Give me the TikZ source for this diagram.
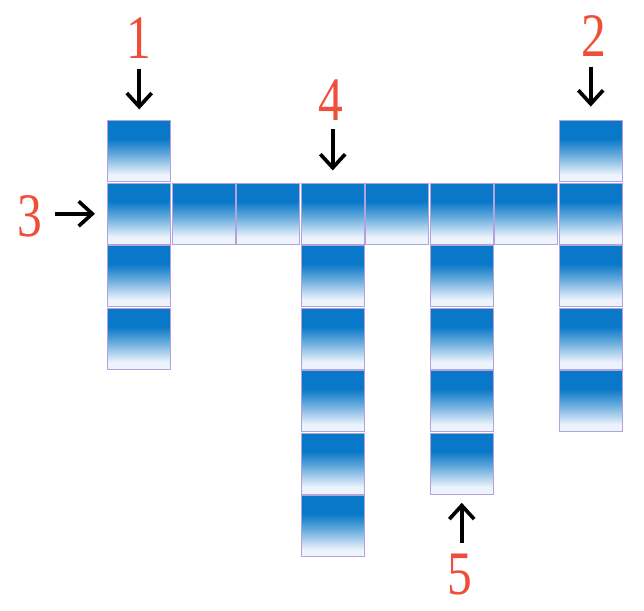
\documentclass[tikz,border=0pt]{standalone}
\usepackage{fontspec}
\usepackage{graphicx}
\setmainfont{Liberation Serif}
\usetikzlibrary{arrows.meta}

\definecolor{cellblue}{RGB}{10,120,200}
\definecolor{cellwhite}{RGB}{236,243,251}
\definecolor{celledge}{RGB}{178,162,222}
\definecolor{numred}{RGB}{238,78,58}

\pgfdeclareverticalshading{cellshade}{100bp}{color(0bp)=(cellwhite); color(25bp)=(cellwhite); color(31bp)=(cellwhite); color(48bp)=(cellblue!65!white); color(60bp)=(cellblue); color(75bp)=(cellblue); color(100bp)=(cellblue)}

\tikzset{
  cell/.style={rectangle, minimum width=1.58cm, minimum height=1.53cm, inner sep=0pt, outer sep=0pt,
               shading=cellshade, draw=celledge, line width=0.6pt},
  num/.style={text=numred, inner sep=0pt, font=\fontsize{44}{44}\selectfont},
  arr/.style={-{Straight Barb[length=0.34cm, width=0.62cm, line width=2.6pt]}, line width=3pt, black}
}

\begin{document}
\begin{tikzpicture}[x=0.025cm, y=-0.025cm]
    % page size of the reference
    \useasboundingbox (0,0) rectangle (644,611);

    % the squares, as column/row in a grid of 64.5 x 62.5
    \foreach \c/\r in {1/1,1/2,1/3,1/4,
                       2/2,3/2,4/2,5/2,6/2,7/2,8/2,
                       4/3,4/4,4/5,4/6,4/7,
                       6/3,6/4,6/5,6/6,
                       8/1,8/3,8/4,8/5} {
        \pgfmathsetmacro{\cx}{107+64.5*(\c-0.5)}
        \pgfmathsetmacro{\cy}{120+62.5*(\r-0.5)}
        \node[cell] (sq-\c-\r) at (\cx,\cy) {};
    }

    % numbers
    \node[num] (n1) at (139.25,38) {\scalebox{0.8}[1]{1}};
    \node[num] (n2) at (594,36) {\scalebox{0.8}[1]{2}};
    \node[num] (n3) at (30,216) {\scalebox{0.8}[1]{3}};
    \node[num] (n4) at (331,100) {\scalebox{0.8}[1]{4}};
    \node[num] (n5) at (460,575) {\scalebox{0.8}[1]{5}};

    % arrows to the squares
    \draw[arr, shorten <=7, shorten >=8] (n1) -- (sq-1-1);
    \draw[arr, shorten <=7, shorten >=10] (n2.south -| sq-8-1) -- (sq-8-1);
    \draw[arr, shorten <=9, shorten >=9] (n3.east |- sq-1-2) -- (sq-1-2);
    \draw[arr, shorten <=6, shorten >=9] (n4.south -| sq-4-2) -- (sq-4-2);
    \draw[arr, shorten <=8, shorten >=6] (n5.north -| sq-6-6) -- (sq-6-6);
\end{tikzpicture}
\end{document}
